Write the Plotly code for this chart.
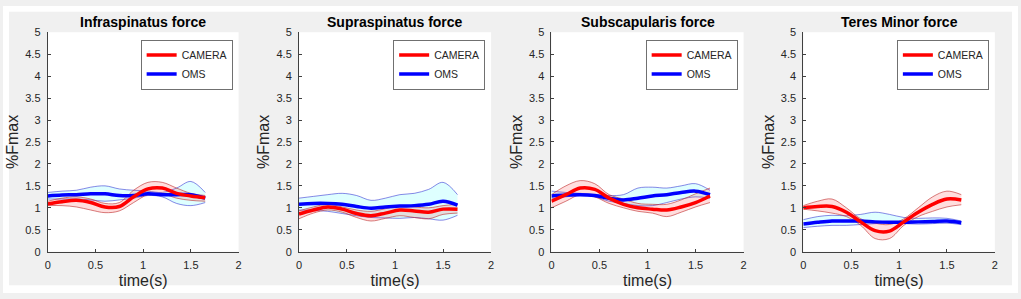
import plotly.graph_objects as go

# ---------------- data ----------------
time_s = [0.0, 0.15, 0.30, 0.45, 0.60, 0.75, 0.90, 1.05, 1.20, 1.35, 1.50, 1.65]
titles = ["Infraspinatus force", "Supraspinatus force", "Subscapularis force", "Teres Minor force"]
series_names = ["CAMERA", "OMS"]
x_ticks = [0, 0.5, 1, 1.5, 2]
y_ticks = [0, 0.5, 1, 1.5, 2, 2.5, 3, 3.5, 4, 4.5, 5]

infra_cam_mean = [1.09, 1.14, 1.17, 1.12, 1.02, 1.03, 1.25, 1.43, 1.45, 1.33, 1.27, 1.23]
infra_cam_up   = [1.15, 1.22, 1.25, 1.20, 1.10, 1.12, 1.40, 1.58, 1.58, 1.45, 1.33, 1.28]
infra_cam_lo   = [1.05, 1.05, 1.02, 0.95, 0.89, 0.93, 1.12, 1.30, 1.32, 1.22, 1.17, 1.15]
infra_oms_mean = [1.27, 1.29, 1.30, 1.32, 1.32, 1.28, 1.28, 1.32, 1.30, 1.30, 1.30, 1.22]
infra_oms_up   = [1.35, 1.38, 1.40, 1.47, 1.50, 1.43, 1.40, 1.38, 1.35, 1.45, 1.60, 1.35]
infra_oms_lo   = [1.20, 1.20, 1.20, 1.18, 1.15, 1.18, 1.22, 1.28, 1.25, 1.10, 1.05, 1.12]

supra_cam_mean = [0.86, 0.95, 1.02, 0.97, 0.87, 0.82, 0.88, 0.95, 0.93, 0.90, 0.97, 0.97]
supra_cam_up   = [0.93, 1.02, 1.08, 1.02, 0.95, 0.92, 0.98, 1.05, 1.02, 1.00, 1.05, 1.08]
supra_cam_lo   = [0.75, 0.88, 0.95, 0.90, 0.78, 0.70, 0.76, 0.82, 0.78, 0.75, 0.85, 0.88]
supra_oms_mean = [1.08, 1.10, 1.10, 1.08, 1.03, 0.99, 1.02, 1.04, 1.05, 1.08, 1.15, 1.06]
supra_oms_up   = [1.22, 1.26, 1.30, 1.33, 1.28, 1.17, 1.22, 1.30, 1.33, 1.42, 1.58, 1.30]
supra_oms_lo   = [0.95, 0.94, 0.92, 0.87, 0.82, 0.78, 0.77, 0.76, 0.78, 0.75, 0.72, 0.83]

subsc_cam_mean = [1.15, 1.30, 1.45, 1.42, 1.22, 1.08, 1.00, 0.97, 0.95, 1.02, 1.12, 1.27]
subsc_cam_up   = [1.30, 1.50, 1.62, 1.55, 1.30, 1.20, 1.10, 1.08, 1.08, 1.18, 1.32, 1.45]
subsc_cam_lo   = [1.00, 1.15, 1.30, 1.25, 1.10, 1.00, 0.92, 0.88, 0.80, 0.90, 1.02, 1.12]
subsc_oms_mean = [1.27, 1.29, 1.30, 1.28, 1.22, 1.18, 1.22, 1.27, 1.30, 1.35, 1.38, 1.30]
subsc_oms_up   = [1.38, 1.35, 1.33, 1.30, 1.28, 1.30, 1.45, 1.47, 1.45, 1.50, 1.55, 1.40]
subsc_oms_lo   = [1.20, 1.25, 1.28, 1.25, 1.15, 1.10, 1.05, 1.05, 1.12, 1.20, 1.25, 1.22]

teres_cam_mean = [1.00, 1.03, 1.03, 0.90, 0.68, 0.48, 0.47, 0.68, 0.90, 1.08, 1.20, 1.18]
teres_cam_up   = [1.05, 1.15, 1.20, 1.00, 0.75, 0.65, 0.62, 0.75, 1.00, 1.25, 1.38, 1.30]
teres_cam_lo   = [0.97, 0.93, 0.88, 0.80, 0.60, 0.30, 0.30, 0.60, 0.80, 0.92, 1.02, 1.07]
teres_oms_mean = [0.63, 0.67, 0.70, 0.70, 0.70, 0.68, 0.67, 0.67, 0.68, 0.69, 0.70, 0.66]
teres_oms_up   = [0.73, 0.80, 0.83, 0.82, 0.85, 0.90, 0.85, 0.78, 0.76, 0.77, 0.76, 0.70]
teres_oms_lo   = [0.55, 0.58, 0.60, 0.60, 0.62, 0.64, 0.65, 0.64, 0.63, 0.64, 0.65, 0.62]

panels = [
    (infra_cam_mean, infra_cam_up, infra_cam_lo, infra_oms_mean, infra_oms_up, infra_oms_lo),
    (supra_cam_mean, supra_cam_up, supra_cam_lo, supra_oms_mean, supra_oms_up, supra_oms_lo),
    (subsc_cam_mean, subsc_cam_up, subsc_cam_lo, subsc_oms_mean, subsc_oms_up, subsc_oms_lo),
    (teres_cam_mean, teres_cam_up, teres_cam_lo, teres_oms_mean, teres_oms_up, teres_oms_lo),
]

# ---------------- layout geometry ----------------
W, H = 1021, 299
lefts = [45, 297.7, 551.7, 805]
rights = [237, 491, 745, 997.7]
top_px, bot_px = 27.3, 256
FONT = "Liberation Sans, Arial, Helvetica, sans-serif"
AX = "#404040"

RED = "#ff0000"
BLUE = "#0000ff"
RED_FILL = "rgba(255,0,0,0.13)"
BLUE_FILL = "rgba(0,255,255,0.13)"
RED_EDGE = "rgba(190,40,40,0.6)"
BLUE_EDGE = "rgba(40,40,210,0.55)"

fig = go.Figure()
layout = dict(
    width=W, height=H,
    margin=dict(l=0, r=0, t=0, b=0),
    paper_bgcolor="#f0f0f0", plot_bgcolor="white",
    font=dict(family=FONT, color="#262626"),
    showlegend=True,
)

annotations = []
for i, (cm, cu, cl, om, ou, ol) in enumerate(panels):
    n = i + 1
    xa = "x" if n == 1 else f"x{n}"
    ya = "y" if n == 1 else f"y{n}"
    lg = "legend" if n == 1 else f"legend{n}"
    # OMS band
    fig.add_trace(go.Scatter(x=time_s, y=ol, xaxis=xa, yaxis=ya, mode="lines",
                             line=dict(color=BLUE_EDGE, width=1, shape="spline"),
                             showlegend=False, hoverinfo="skip"))
    fig.add_trace(go.Scatter(x=time_s, y=ou, xaxis=xa, yaxis=ya, mode="lines",
                             line=dict(color=BLUE_EDGE, width=1, shape="spline"),
                             fill="tonexty", fillcolor=BLUE_FILL,
                             showlegend=False, hoverinfo="skip"))
    # CAMERA band
    fig.add_trace(go.Scatter(x=time_s, y=cl, xaxis=xa, yaxis=ya, mode="lines",
                             line=dict(color=RED_EDGE, width=1, shape="spline"),
                             showlegend=False, hoverinfo="skip"))
    fig.add_trace(go.Scatter(x=time_s, y=cu, xaxis=xa, yaxis=ya, mode="lines",
                             line=dict(color=RED_EDGE, width=1, shape="spline"),
                             fill="tonexty", fillcolor=RED_FILL,
                             showlegend=False, hoverinfo="skip"))
    # means
    fig.add_trace(go.Scatter(x=time_s, y=om, xaxis=xa, yaxis=ya, mode="lines",
                             name=series_names[1], legend=lg, legendrank=2,
                             line=dict(color=BLUE, width=3.5, shape="spline")))
    fig.add_trace(go.Scatter(x=time_s, y=cm, xaxis=xa, yaxis=ya, mode="lines",
                             name=series_names[0], legend=lg, legendrank=1,
                             line=dict(color=RED, width=3.5, shape="spline")))

    xd = [lefts[i] / W, rights[i] / W]
    yd = [1 - bot_px / H, 1 - top_px / H]
    layout["xaxis" if n == 1 else f"xaxis{n}"] = dict(
        domain=xd, range=[0, 2], anchor=ya, tickvals=x_ticks,
        showline=True, linecolor=AX, linewidth=1, ticks="inside", ticklen=3,
        tickcolor=AX, showgrid=False, zeroline=False, ticklabelstandoff=3,
        tickfont=dict(size=11, color="#262626"),
        title=dict(text="time(s)", font=dict(size=16, color="#262626"), standoff=4),
    )
    layout["yaxis" if n == 1 else f"yaxis{n}"] = dict(
        domain=yd, range=[0, 5], anchor=xa, tickvals=y_ticks,
        showline=True, linecolor=AX, linewidth=1, ticks="inside", ticklen=3,
        tickcolor=AX, showgrid=False, zeroline=False, ticklabelstandoff=4,
        tickfont=dict(size=11, color="#262626"),
        title=dict(text="%Fmax", font=dict(size=16, color="#262626"), standoff=2),
    )
    layout[lg] = dict(
        x=(rights[i] - 6) / W, xanchor="right", y=1 - 35 / H, yanchor="top",
        bgcolor="white", bordercolor="#707070", borderwidth=1,
        font=dict(size=10.5, color="#262626"), traceorder="normal",
        tracegroupgap=0, itemwidth=30,
    )
    annotations.append(dict(
        x=(lefts[i] + rights[i]) / 2 / W, y=1 - 17 / H, xref="paper", yref="paper",
        text=f"<b>{titles[i]}</b>", showarrow=False, xanchor="center", yanchor="middle",
        font=dict(size=14, color="black", family=FONT),
    ))

layout["annotations"] = annotations
# white outer border around the grey figure area
layout["shapes"] = [
    dict(type="rect", xref="paper", yref="paper", x0=0, x1=6 / W, y0=0, y1=1,
         fillcolor="white", line=dict(width=0), layer="below"),
    dict(type="rect", xref="paper", yref="paper", x0=1015 / W, x1=1, y0=0, y1=1,
         fillcolor="white", line=dict(width=0), layer="below"),
    dict(type="rect", xref="paper", yref="paper", x0=0, x1=1, y0=1 - 6 / H, y1=1,
         fillcolor="white", line=dict(width=0), layer="below"),
    dict(type="rect", xref="paper", yref="paper", x0=0, x1=1, y0=0, y1=1 - 291 / H,
         fillcolor="white", line=dict(width=0), layer="below"),
]
fig.update_layout(**layout)

fig.write_html("out.html", config={"displayModeBar": False},
               post_script="document.body.style.margin='0';document.body.style.overflow='hidden';")
